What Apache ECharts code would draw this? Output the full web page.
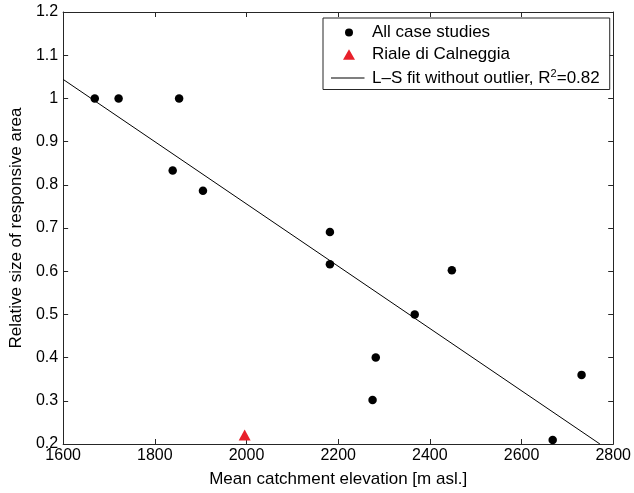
<!DOCTYPE html>
<html>
<head>
<meta charset="utf-8">
<script src="https://cdn.jsdelivr.net/npm/echarts@6/dist/echarts.min.js"></script>
<style>
  html, body { margin: 0; padding: 0; background: #fff; }
  #chart { width: 634px; height: 493px; }
</style>
</head>
<body>
<div id="chart"></div>
<script>
// Case-study catchments: mean elevation vs. relative size of responsive area
const caseElevation = [1669, 1721, 1853, 1839, 1905, 2182, 2182, 2448, 2367, 2282, 2275, 2731, 2668];
const caseArea      = [1.0, 1.0, 1.0, 0.833, 0.786, 0.691, 0.616, 0.602, 0.5, 0.4, 0.302, 0.36, 0.209];

// Outlier catchment
const calneggiaElevation = [1996];
const calneggiaArea      = [0.221];

// Least-squares fit line endpoints (fit excludes the outlier)
const fitElevation = [1600, 2771];
const fitArea      = [1.044, 0.2];

const xTicks = { min: 1600, max: 2800, step: 200 };
const yTicks = { min: 0.2, max: 1.2, step: 0.1 };

const FONT = '"Liberation Sans", Arial, Helvetica, sans-serif';
const AXIS_COLOR = '#262626';
const RED = '#e8202a';

// Legend icons drawn in a fixed box (the leading M points pin the box size)
const ICON_DOT  = 'path://M0,0ZM14,14ZM3,7A4,4,0,1,1,11,7A4,4,0,1,1,3,7Z';
const ICON_TRI  = 'path://M0,0ZM14,14ZM7,1.8L13,12.2L1,12.2Z';
const ICON_LINE = 'path://M0,0ZM36,14ZM0,6.5H33.5V7.5H0Z';

const chart = echarts.init(document.getElementById('chart'), null, { renderer: 'canvas' });

function zip(xs, ys) { return xs.map((x, i) => [x, ys[i]]); }

const baseAxisLine = { show: true, lineStyle: { color: AXIS_COLOR, width: 1 } };
const baseTick = { show: true, inside: true, length: 5, lineStyle: { color: AXIS_COLOR, width: 1 } };

chart.setOption({
  backgroundColor: '#fff',
  animation: false,
  textStyle: { fontFamily: FONT },
  grid: { left: 62, top: 12, width: 555, height: 436, containLabel: false },
  xAxis: [
    {
      type: 'value', position: 'bottom',
      min: xTicks.min, max: xTicks.max, interval: xTicks.step,
      name: 'Mean catchment elevation [m asl.]',
      nameLocation: 'middle', nameGap: 27,
      nameTextStyle: { color: '#000', fontSize: 17, fontFamily: FONT },
      axisLine: baseAxisLine, axisTick: baseTick,
      axisLabel: { color: '#000', fontSize: 16, fontFamily: FONT, margin: 4,
                   formatter: v => String(v) },
      splitLine: { show: false }
    },
    {
      type: 'value', position: 'top',
      min: xTicks.min, max: xTicks.max, interval: xTicks.step,
      axisLine: baseAxisLine, axisTick: baseTick,
      axisLabel: { show: false }, splitLine: { show: false }
    }
  ],
  yAxis: [
    {
      type: 'value', position: 'left',
      min: yTicks.min, max: yTicks.max, interval: yTicks.step,
      name: 'Relative size of responsive area',
      nameLocation: 'middle', nameGap: 36, nameRotate: 90,
      nameTextStyle: { color: '#000', fontSize: 17, fontFamily: FONT },
      axisLine: baseAxisLine, axisTick: baseTick,
      axisLabel: { color: '#000', fontSize: 16, fontFamily: FONT, margin: 5,
                   formatter: v => String(Math.round(v * 10) / 10) },
      splitLine: { show: false }
    },
    {
      type: 'value', position: 'right',
      min: yTicks.min, max: yTicks.max, interval: yTicks.step,
      axisLine: baseAxisLine, axisTick: baseTick,
      axisLabel: { show: false }, splitLine: { show: false }
    }
  ],
  legend: {
    orient: 'vertical',
    left: 323, top: 18,
    padding: [6, 10, 3, 8],
    itemGap: 5,
    itemWidth: 36, itemHeight: 14,
    symbolKeepAspect: true,
    borderColor: AXIS_COLOR, borderWidth: 1,
    backgroundColor: '#fff',
    selectedMode: false,
    textStyle: {
      color: '#000', fontSize: 17, fontFamily: FONT,
      rich: {
        a: { fontSize: 17, fontFamily: FONT, color: '#000' },
        sup: { fontSize: 11, fontFamily: FONT, color: '#000', verticalAlign: 'top', padding: [0, 0, 9, 0] }
      }
    },
    formatter: name => name === 'fit'
      ? '{a|L\u2013S fit without outlier, R}{sup|2}{a|=0.82}'
      : name,
    data: [
      { name: 'All case studies', icon: ICON_DOT, itemStyle: { color: '#000', opacity: 1 } },
      { name: 'Riale di Calneggia', icon: ICON_TRI, itemStyle: { color: RED, opacity: 1 } },
      { name: 'fit', icon: ICON_LINE, itemStyle: { color: '#000', opacity: 1 } }
    ]
  },
  series: [
    {
      name: 'All case studies',
      type: 'scatter',
      symbol: 'circle', symbolSize: 8.5,
      itemStyle: { color: '#000', opacity: 1 },
      data: zip(caseElevation, caseArea),
      z: 3
    },
    {
      name: 'Riale di Calneggia',
      type: 'scatter',
      symbol: 'triangle', symbolSize: [12, 11],
      itemStyle: { color: RED, opacity: 1 },
      data: zip(calneggiaElevation, calneggiaArea),
      z: 3
    },
    {
      name: 'fit',
      type: 'line',
      showSymbol: false, symbol: 'none',
      lineStyle: { color: '#000', width: 1 },
      itemStyle: { color: '#000' },
      data: zip(fitElevation, fitArea),
      z: 2
    }
  ]
});
</script>
</body>
</html>
